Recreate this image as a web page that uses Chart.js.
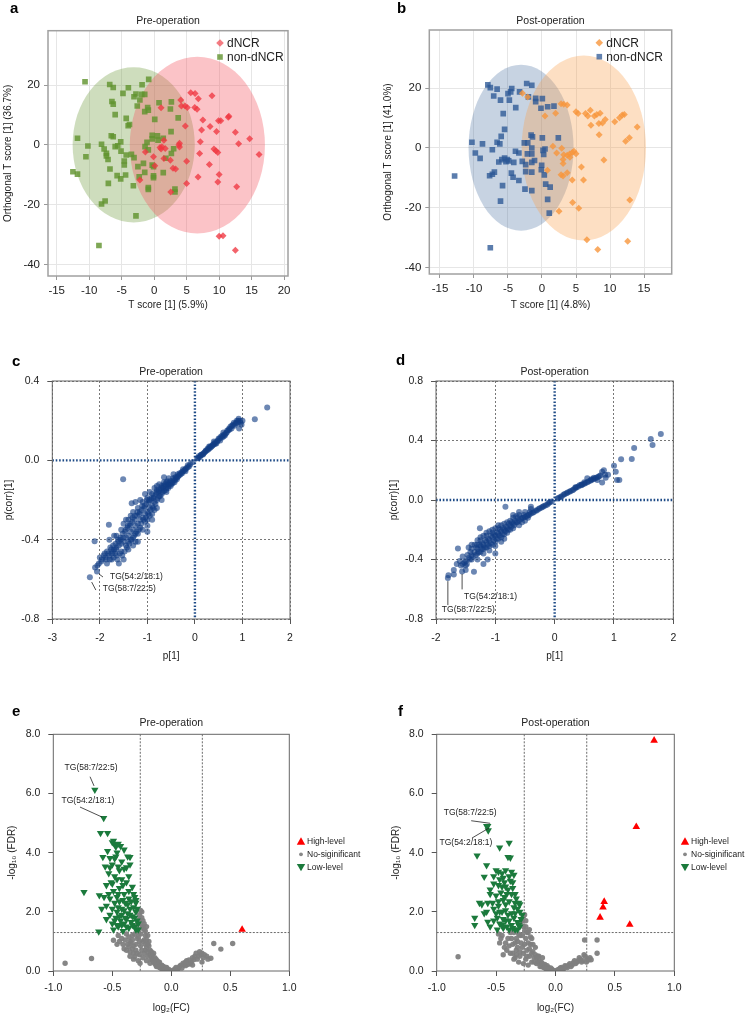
<!DOCTYPE html>
<html><head><meta charset="utf-8">
<script src="https://cdn.jsdelivr.net/npm/chart.js@4.4.1/dist/chart.umd.min.js"></script>
<style>
html,body{margin:0;padding:0;background:#fff;width:745px;height:1015px;overflow:hidden}
canvas{position:absolute;left:0;top:0}
</style></head>
<body>
<canvas id="pa" width="745" height="1015"></canvas>
<canvas id="pb" width="745" height="1015"></canvas>
<canvas id="pc" width="745" height="1015"></canvas>
<canvas id="pd" width="745" height="1015"></canvas>
<canvas id="pe" width="745" height="1015"></canvas>
<canvas id="pf" width="745" height="1015"></canvas>
<script>
// ---------------- DATA ----------------
// Panel a (Pre-operation OPLS-DA scores)
const aDNCR = [[5.63,17.4],[6.3,17.2],[6.8,15.4],[8.9,16.4],[1.06,12.4],[4.09,15.0],[4.2,13.0],[4.76,13.0],[5.1,12.5],[6.25,12.5],[6.6,11.9],[11.4,9.2],[11.5,9.6],[10.25,8.1],[9.9,8.1],[7.5,8.3],[4.8,6.3],[7.3,4.95],[8.6,6.1],[9.6,4.5],[12.5,4.2],[14.7,2.05],[13.0,0.4],[16.15,-3.2],[7.1,1.05],[7.0,-2.9],[9.2,-1.4],[9.5,-2.0],[9.8,-2.6],[8.5,-6.6],[10.0,-9.9],[9.8,-12.4],[12.7,-14.0],[6.76,-10.8],[5.0,-12.9],[5.0,-5.5],[3.8,-0.07],[3.9,0.5],[3.9,-0.7],[2.9,-7.8],[3.3,-8.1],[2.55,-15.8],[1.7,-1.2],[1.2,-0.6],[1.06,-1.4],[1.5,-4.6],[-0.1,-4.0],[0.1,-7.0],[-1.35,-2.4],[-2.2,-11.8],[1.5,1.5],[0.9,-0.9],[2.5,-5.2],[10.0,-30.6],[10.6,-30.4],[12.5,-35.3]];
const aNonDNCR = [[-10.64,21.1],[-6.84,20.2],[-6.3,19.2],[-3.97,19.1],[-0.84,21.9],[-1.86,20.1],[-4.8,17.2],[-2.8,17.0],[-3.1,16.1],[-6.5,14.5],[-6.3,13.6],[-6.0,10.1],[-4.3,8.85],[-3.8,6.8],[-4.0,6.4],[-2.6,13.0],[-1.9,16.9],[-1.45,16.9],[-2.2,15.0],[-1.45,11.1],[-1.0,12.5],[-0.9,11.6],[0.09,8.5],[0.75,14.1],[2.65,14.4],[2.5,12.0],[3.7,9.0],[-0.3,3.2],[-0.3,2.0],[0.5,3.0],[2.6,4.4],[0.6,1.6],[-11.8,2.2],[-10.2,-0.4],[-10.5,-4.0],[-12.5,-9.0],[-11.8,-9.8],[-8.1,0.2],[-7.7,-1.4],[-7.35,-2.85],[-7.35,-3.7],[-7.1,-4.9],[-6.6,3.05],[-6.3,2.7],[-5.15,1.0],[-5.6,-0.3],[-5.1,-2.1],[-6.0,-0.6],[-4.6,-5.4],[-4.6,-6.75],[-4.4,-10.1],[-5.15,-11.4],[-5.7,-10.3],[-6.8,-8.1],[-7.05,-12.9],[-7.55,-18.8],[-8.1,-19.8],[-2.8,-23.8],[-8.5,-33.7],[-4.3,-3.4],[-3.5,-3.2],[-3.2,-13.7],[-2.5,-7.3],[-2.3,-10.7],[-1.45,-9.2],[-1.65,-6.2],[-0.3,-6.8],[-0.1,-7.3],[-0.9,-14.3],[-0.9,-14.9],[-0.1,-11.0],[-0.1,-10.4],[1.4,-9.3],[3.2,-14.8],[3.2,-15.8],[1.8,-4.5],[2.65,-2.9],[3.0,-1.3],[-1.1,0.8],[-1.4,-0.6],[-0.9,-1.7],[1.4,2.2],[-3.1,-4.3]];
const aEllipseNon = {cx:-3.15, cy:0, rx:9.4, ry:26};
const aEllipseD = {cx:6.65, cy:-0.1, rx:10.4, ry:29.6};

// Panel b (Post-operation OPLS-DA scores)
const bDNCR = [[-2.88,18.3],[-2.1,17.1],[0.44,10.7],[2.0,11.6],[2.8,14.8],[3.2,14.6],[3.7,14.4],[5.0,12.1],[5.3,11.5],[6.4,11.5],[6.74,10.7],[7.1,12.6],[7.7,10.7],[8.06,11.2],[8.55,11.6],[8.36,8.2],[7.2,7.6],[9.3,9.55],[8.9,8.4],[10.7,8.8],[11.4,10.1],[11.8,11.0],[12.1,11.2],[14.0,7.0],[12.85,3.4],[12.3,2.25],[8.4,4.4],[1.6,0.55],[2.9,-0.1],[2.15,-1.7],[3.2,-2.25],[3.1,-3.9],[3.7,-2.4],[4.05,-2.0],[4.45,-1.5],[4.7,-1.1],[5.0,-1.9],[4.1,-3.1],[3.1,-5.2],[2.8,-9.0],[3.7,-8.3],[3.1,-9.4],[4.45,-10.7],[5.8,-6.4],[6.1,-10.7],[9.1,-4.05],[0.8,-7.5],[2.5,-21.2],[4.5,-18.3],[5.4,-20.2],[12.9,-17.4],[6.6,-30.7],[8.2,-34.0],[12.6,-31.2]];
const bNonDNCR = [[-7.96,21.1],[-7.6,20.2],[-6.6,19.7],[-4.45,19.9],[-4.6,18.8],[-5.0,18.2],[-2.25,21.6],[-1.5,21.0],[-7.1,17.4],[-6.1,16.0],[-4.8,16.0],[-3.3,18.8],[-2.0,17.1],[-0.93,16.6],[0.05,16.5],[-0.93,15.5],[-3.86,13.5],[-0.15,13.3],[0.83,13.8],[1.76,14.0],[-5.7,11.5],[-5.5,6.2],[-6.0,3.9],[-6.6,1.9],[-6.2,1.35],[-10.3,1.9],[-8.75,1.35],[-9.8,-1.7],[-9.1,-3.5],[-7.3,-0.6],[-5.5,-3.4],[-5.9,-3.9],[-6.35,-4.7],[-5.1,-3.9],[-4.15,-4.8],[-7.7,-9.3],[-7.3,-8.8],[-7.0,-8.1],[-5.8,-12.6],[-6.1,-17.8],[-7.6,-33.4],[-12.85,-9.4],[-4.5,-8.4],[-4.25,-9.8],[-3.4,-10.9],[-2.5,-13.8],[-1.5,-14.3],[-3.9,-1.1],[-3.4,-1.7],[-2.9,-4.5],[-2.4,-5.6],[-2.6,1.7],[-2.1,1.7],[-1.6,4.3],[-1.4,3.7],[-1.5,0.0],[-2.15,-2.0],[-1.5,-2.0],[-1.1,-4.2],[-1.5,-4.8],[-2.4,-7.9],[-1.5,-8.1],[-0.1,-7.3],[0.05,3.4],[0.15,-0.8],[0.44,-0.35],[0.25,-2.2],[-0.05,-5.8],[0.34,-9.0],[0.54,-12.1],[1.2,-13.1],[0.83,-17.2],[1.07,-21.8],[2.4,3.4],[-4.9,-4.3],[-5.3,-4.6]];
const bEllipseNon = {cx:-3.08, cy:0.1, rx:7.72, ry:27.8};
const bEllipseD = {cx:6.15, cy:0, rx:9.14, ry:31};

// Panel c (Pre-operation S-plot: p[1] vs p(corr)[1])
const cPoints = [[0.05,0.01],[0.08,0.02],[0.1,0.015],[0.12,0.025],[0.15,0.03],[0.18,0.035],[0.2,0.04],[0.22,0.045],[0.25,0.05],[0.27,0.06],[0.3,0.06],[0.32,0.07],[0.35,0.07],[0.37,0.075],[0.4,0.08],[0.42,0.09],[0.45,0.085],[0.48,0.1],[0.5,0.11],[0.53,0.1],[0.55,0.12],[0.58,0.125],[0.6,0.12],[0.62,0.13],[0.65,0.135],[0.68,0.15],[0.7,0.15],[0.72,0.16],[0.75,0.17],[0.78,0.175],[0.8,0.18],[0.82,0.19],[0.85,0.185],[0.88,0.2],[0.9,0.19],[0.92,0.21],[0.95,0.2],[0.98,0.18],[0.93,0.16],[1.26,0.207],[1.52,0.267],[0.6,0.14],[0.4,0.095],[0.3,0.07],
[0.07,0.012],[0.13,0.028],[0.17,0.03],[0.23,0.05],[0.28,0.055],[0.33,0.065],[0.38,0.08],[0.43,0.085],[0.47,0.095],[0.52,0.11],[0.57,0.115],[0.63,0.125],[0.67,0.14],[0.73,0.155],[0.77,0.16],[0.83,0.175],[0.87,0.19],[0.91,0.2],[0.96,0.19],[1.0,0.2],
[-0.05,-0.01],[-0.1,-0.02],[-0.12,-0.03],[-0.15,-0.035],[-0.18,-0.04],[-0.2,-0.045],[-0.22,-0.05],[-0.25,-0.055],[-0.27,-0.065],[-0.3,-0.07],[-0.32,-0.065],[-0.35,-0.08],[-0.37,-0.085],[-0.4,-0.09],[-0.42,-0.1],[-0.45,-0.1],[-0.48,-0.11],[-0.5,-0.12],[-0.52,-0.105],[-0.55,-0.13],[-0.57,-0.12],[-0.6,-0.14],[-0.62,-0.13],[-0.65,-0.155],[-0.67,-0.14],[-0.7,-0.17],[-0.72,-0.15],[-0.75,-0.18],[-0.77,-0.16],[-0.8,-0.2],[-0.82,-0.17],[-0.85,-0.21],[-0.87,-0.19],[-0.9,-0.23],[-0.92,-0.2],[-0.95,-0.24],[-0.97,-0.21],[-1.0,-0.26],[-1.02,-0.22],[-1.05,-0.27],[-1.07,-0.24],[-1.1,-0.29],[-1.12,-0.25],[-1.15,-0.3],[-1.17,-0.27],[-1.2,-0.32],[-1.22,-0.28],[-1.25,-0.33],[-1.27,-0.3],[-1.3,-0.35],[-1.32,-0.31],[-1.35,-0.36],[-1.37,-0.33],[-1.4,-0.38],[-1.42,-0.34],[-1.45,-0.39],[-1.47,-0.36],[-1.5,-0.41],[-1.52,-0.37],[-1.55,-0.42],[-1.57,-0.39],[-1.6,-0.43],[-1.62,-0.4],[-1.65,-0.44],[-1.67,-0.42],[-1.7,-0.45],[-1.72,-0.43],[-1.75,-0.47],[-1.78,-0.44],[-1.8,-0.48],[-1.85,-0.46],[-1.88,-0.49],[-1.9,-0.47],[-1.95,-0.5],[-2.0,-0.49],[-2.02,-0.52],[-2.1,-0.54],
[-0.6,-0.11],[-0.7,-0.13],[-0.8,-0.15],[-0.9,-0.17],[-1.0,-0.19],[-1.1,-0.21],[-1.2,-0.24],[-1.3,-0.26],[-1.4,-0.3],[-1.5,-0.32],[-0.85,-0.25],[-0.95,-0.28],[-1.05,-0.31],[-1.15,-0.34],[-1.25,-0.37],[-1.35,-0.4],[-1.45,-0.43],[-1.55,-0.46],[-1.65,-0.48],[-1.75,-0.5],[-1.85,-0.52],[-1.5,-0.5],[-1.6,-0.52],[-1.3,-0.43],[-1.2,-0.41],[-1.0,-0.33],[-0.9,-0.3],[-1.4,-0.45],[-1.7,-0.38],[-1.8,-0.4],
[-0.15,-0.025],[-0.2,-0.055],[-0.25,-0.045],[-0.28,-0.06],[-0.33,-0.075],[-0.36,-0.07],[-0.38,-0.095],[-0.41,-0.085],[-0.43,-0.11],[-0.46,-0.09],[-0.47,-0.115],[-0.51,-0.13],[-0.53,-0.115],[-0.56,-0.14],[-0.58,-0.105],[-0.61,-0.15],[-0.63,-0.12],[-0.66,-0.13],[-0.68,-0.16],[-0.71,-0.14],[-0.73,-0.18],[-0.76,-0.15],[-0.78,-0.19],[-0.81,-0.16],[-0.83,-0.22],[-0.86,-0.18],[-0.88,-0.24],[-0.91,-0.19],[-0.93,-0.25],[-0.96,-0.2],[-0.98,-0.27],[-1.01,-0.2],[-1.03,-0.29],[-1.06,-0.23],[-1.08,-0.3],[-1.11,-0.23],[-1.13,-0.32],[-1.16,-0.26],[-1.18,-0.35],[-1.21,-0.26],[-1.23,-0.36],[-1.26,-0.28],[-1.28,-0.38],[-1.31,-0.29],[-1.33,-0.4],[-1.36,-0.32],[-1.38,-0.42],[-1.41,-0.33],[-1.43,-0.44],[-1.46,-0.35],[-1.48,-0.46],[-1.51,-0.39],[-1.53,-0.48],[-1.56,-0.4],[-1.58,-0.47],[-1.61,-0.41],[-1.63,-0.5],[-1.66,-0.45],[-1.68,-0.47],[-1.71,-0.49],[-1.73,-0.46],[-1.76,-0.45],[-1.79,-0.5],[-1.82,-0.47],[-1.87,-0.5],[-1.92,-0.48],[-1.97,-0.51],[-2.05,-0.53],[-1.1,-0.35],[-1.2,-0.37],[-1.0,-0.3],[-0.9,-0.27],[-0.8,-0.24],[-0.7,-0.2],[-0.6,-0.16],[-1.3,-0.39],[-1.4,-0.41],[-0.95,-0.16],[-1.15,-0.2],[-1.35,-0.28],[-1.45,-0.3],[-1.55,-0.35],[-1.65,-0.38],[-0.75,-0.12],[-0.85,-0.14],[-1.0,-0.36],[-1.25,-0.41],[-0.55,-0.09],[-0.65,-0.11],
[-1.51,-0.095],[-0.65,-0.085],[-1.33,-0.217],[-1.81,-0.325],[-2.11,-0.408],[-0.45,-0.07],[-0.8,-0.13],[-1.05,-0.17],[-1.25,-0.21]];
const cTagged = [[-2.06,-0.56],[-2.21,-0.59]];
const cTagNames = ['TG(54:2/18:1)','TG(58:7/22:5)'];

// Panel d (Post-operation S-plot)
const dPoints = [[0.05,0.01],[0.1,0.02],[0.15,0.035],[0.2,0.045],[0.25,0.055],[0.3,0.065],[0.35,0.08],[0.4,0.09],[0.45,0.1],[0.5,0.11],[0.55,0.12],[0.6,0.13],[0.65,0.14],[0.7,0.15],[0.75,0.16],[0.55,0.146],[0.72,0.135],[0.8,0.117],[0.83,0.2],[0.86,0.15],[0.8,0.19],[0.9,0.17],[1.0,0.23],[1.03,0.19],[1.05,0.135],[1.09,0.135],[1.12,0.274],[1.3,0.276],[1.34,0.35],[1.62,0.41],[1.65,0.37],[1.79,0.443],[0.22,0.05],[0.32,0.07],[0.42,0.1],[0.62,0.14],[0.66,0.15],
[0.07,0.015],[0.12,0.025],[0.17,0.04],[0.27,0.06],[0.37,0.085],[0.47,0.105],[0.52,0.115],[0.57,0.125],[0.62,0.135],[0.68,0.145],[0.73,0.155],[0.77,0.165],[0.5,0.12],[0.45,0.105],[0.35,0.085],[0.85,0.17],
[-0.05,-0.01],[-0.1,-0.02],[-0.15,-0.035],[-0.2,-0.045],[-0.25,-0.055],[-0.3,-0.07],[-0.35,-0.08],[-0.4,-0.09],[-0.45,-0.1],[-0.5,-0.115],[-0.55,-0.12],[-0.6,-0.14],[-0.65,-0.15],[-0.7,-0.16],[-0.75,-0.17],[-0.8,-0.19],[-0.85,-0.2],[-0.9,-0.21],[-0.95,-0.225],[-1.0,-0.24],[-1.05,-0.25],[-1.1,-0.27],[-1.15,-0.28],[-1.2,-0.3],[-1.25,-0.31],[-1.3,-0.33],[-1.35,-0.35],[-1.4,-0.37],[-1.45,-0.39],[-1.5,-0.41],[-1.55,-0.43],
[-0.4,-0.06],[-0.5,-0.08],[-0.6,-0.1],[-0.7,-0.12],[-0.8,-0.15],[-0.9,-0.17],[-1.0,-0.19],[-1.1,-0.21],[-1.2,-0.24],[-1.3,-0.27],[-1.4,-0.3],[-0.5,-0.14],[-0.6,-0.17],[-0.7,-0.19],[-0.8,-0.22],[-0.9,-0.25],[-1.0,-0.28],[-1.1,-0.31],[-1.2,-0.33],[-1.3,-0.36],[-1.4,-0.4],[-1.5,-0.44],[-0.65,-0.11],[-0.75,-0.14],[-0.85,-0.16],[-0.95,-0.19],[-1.05,-0.22],[-1.15,-0.24],[-1.25,-0.27],[-0.75,-0.2],[-0.85,-0.23],[-0.95,-0.26],[-1.05,-0.3],[-1.15,-0.32],[-1.25,-0.35],[-1.35,-0.3],[-1.45,-0.32],
[-0.08,-0.015],[-0.12,-0.03],[-0.18,-0.04],[-0.22,-0.05],[-0.27,-0.06],[-0.32,-0.07],[-0.37,-0.085],[-0.42,-0.08],[-0.43,-0.1],[-0.47,-0.11],[-0.52,-0.1],[-0.53,-0.12],[-0.57,-0.13],[-0.62,-0.12],[-0.63,-0.15],[-0.67,-0.14],[-0.68,-0.17],[-0.72,-0.15],[-0.73,-0.18],[-0.77,-0.16],[-0.78,-0.2],[-0.82,-0.18],[-0.83,-0.21],[-0.87,-0.19],[-0.88,-0.23],[-0.92,-0.2],[-0.93,-0.24],[-0.97,-0.22],[-0.98,-0.26],[-1.02,-0.23],[-1.03,-0.27],[-1.07,-0.24],[-1.08,-0.29],[-1.12,-0.26],[-1.13,-0.3],[-1.17,-0.27],[-1.18,-0.32],[-1.22,-0.29],[-1.23,-0.33],[-1.27,-0.3],[-1.28,-0.35],[-1.32,-0.32],[-1.33,-0.37],[-1.38,-0.38],[-1.42,-0.35],[-1.43,-0.4],[-1.47,-0.37],[-1.52,-0.42],[-1.58,-0.44],[-0.95,-0.17],[-1.05,-0.2],[-0.9,-0.28],[-1.0,-0.31],[-1.1,-0.34],[-1.2,-0.36],[-0.85,-0.26],[-1.15,-0.22],[-1.25,-0.25],[-0.7,-0.1],[-0.6,-0.08],[-0.55,-0.15],[-0.45,-0.12],[-1.3,-0.4],[-1.4,-0.33],[-1.6,-0.41],[-1.55,-0.38],
[-0.83,-0.045],[-0.4,-0.045],[-1.26,-0.19],[-1.63,-0.326],[-1.31,-0.3],[-1.36,-0.483],[-1.13,-0.4],[-1.48,-0.43],[-1.7,-0.47],[-1.79,-0.506],[-1.7,-0.5],[-1.5,-0.47],[-1.65,-0.43],[-1.2,-0.43],[-1.0,-0.36]];
const dTagged = [[-1.56,-0.48],[-1.8,-0.525]];
const dTagNames = ['TG(54:2/18:1)','TG(58:7/22:5)'];

// Panel e (Pre-operation volcano: log2(FC) vs -log10(FDR))
const eHigh = [[0.6,1.4]];
const eLow = [[-0.6,4.66],[-0.54,4.66],[-0.5,4.35],[-0.48,4.28],[-0.47,4.2],[-0.43,4.22],[-0.4,4.1],[-0.46,4.0],[-0.58,3.85],[-0.52,3.82],[-0.47,3.87],[-0.35,3.85],[-0.37,3.87],[-0.56,3.53],[-0.5,3.6],[-0.45,3.53],[-0.4,3.45],[-0.35,3.6],[-0.53,3.3],[-0.48,3.2],[-0.42,3.1],[-0.38,3.0],[-0.33,2.84],[-0.55,2.9],[-0.5,2.95],[-0.44,2.8],[-0.74,2.67],[-0.61,2.56],[-0.57,2.5],[-0.52,2.45],[-0.46,2.5],[-0.41,2.4],[-0.36,2.45],[-0.31,2.5],[-0.3,2.3],[-0.55,2.2],[-0.5,2.1],[-0.45,2.15],[-0.4,2.05],[-0.35,2.1],[-0.3,2.0],[-0.52,1.9],[-0.47,1.8],[-0.42,1.9],[-0.38,1.75],[-0.33,1.85],[-0.29,1.7],[-0.5,1.6],[-0.45,1.5],[-0.4,1.6],[-0.36,1.45],[-0.31,1.5],[-0.28,1.4],[-0.615,1.33],[-0.43,1.7],[-0.37,2.25],[-0.34,1.65],[-0.41,1.35],[-0.49,1.4],[-0.55,1.75],[-0.59,2.1],
[-0.48,2.3],[-0.44,2.35],[-0.39,2.3],[-0.34,2.35],[-0.3,2.4],[-0.46,2.0],[-0.42,2.1],[-0.37,1.95],[-0.32,2.15],[-0.29,2.1],[-0.48,1.7],[-0.44,1.85],[-0.39,1.8],[-0.35,1.9],[-0.31,1.8],[-0.28,1.6],[-0.46,1.55],[-0.42,1.55],[-0.38,1.5],[-0.33,1.55],[-0.3,1.4],[-0.53,2.6],[-0.49,2.7],[-0.45,2.6],[-0.4,2.6],[-0.36,2.7],[-0.32,2.6],[-0.51,3.0],[-0.46,3.1],[-0.41,2.9],[-0.36,3.2],[-0.44,3.4],[-0.52,3.5],[-0.48,3.8],[-0.42,3.7],[-0.38,3.5],[-0.54,4.05],[-0.45,4.3],[-0.49,4.4]];
const eNs = [[-0.9,0.26],[-0.676,0.42],[-0.49,1.04],[-0.46,0.9],[-0.42,1.1],[-0.4,0.75],[-0.38,1.25],[-0.36,0.82],[-0.35,1.0],[-0.33,1.2],[-0.32,0.6],[-0.31,0.48],[-0.3,0.9],[-0.29,1.1],[-0.28,1.3],[-0.27,1.9],[-0.26,1.6],[-0.265,0.26],[-0.25,2.0],[-0.25,0.7],[-0.24,1.0],[-0.23,1.4],[-0.22,1.2],[-0.21,0.8],[-0.2,0.5],[-0.19,1.0],[-0.18,0.7],[-0.18,0.26],[-0.17,0.4],[-0.16,0.55],[-0.15,0.3],[-0.14,0.45],[-0.13,0.2],[-0.126,0.15],[-0.11,0.3],[-0.1,0.12],[-0.09,0.2],[-0.08,0.08],[-0.07,0.06],[-0.06,0.14],[-0.05,0.03],[-0.04,0.08],[-0.03,0.02],[-0.02,0.05],[0,0.01],[0.02,0.03],[0.04,0.12],[0.06,0.08],[0.08,0.2],[0.1,0.26],[0.12,0.18],[0.13,0.35],[0.15,0.37],[0.17,0.3],[0.18,0.45],[0.2,0.5],[0.21,0.6],[0.22,0.4],[0.24,0.65],[0.25,0.55],[0.27,0.45],[0.26,0.3],[0.335,0.43],[0.36,0.93],[0.42,0.74],[0.52,0.93],[-0.3,1.5],[-0.27,1.0],[-0.23,0.6],[-0.35,0.5],[-0.28,0.35],[-0.22,0.9],[-0.2,1.2],[-0.21,0.35],[-0.12,0.35],[0.14,0.22],[0.05,0.05],[-0.24,1.7],[-0.26,1.25],[-0.33,0.75],
[-0.34,0.95],[-0.33,1.05],[-0.32,0.85],[-0.31,1.25],[-0.3,0.7],[-0.29,0.6],[-0.28,1.15],[-0.27,0.55],[-0.26,0.85],[-0.25,1.45],[-0.24,0.45],[-0.23,1.05],[-0.22,0.7],[-0.21,1.05],[-0.2,0.65],[-0.19,0.85],[-0.18,0.55],[-0.17,0.65],[-0.16,0.4],[-0.15,0.6],[-0.14,0.25],[-0.13,0.4],[-0.12,0.25],[-0.11,0.15],[-0.1,0.3],[-0.09,0.1],[-0.08,0.2],[-0.07,0.15],[-0.06,0.05],[-0.04,0.12],[-0.27,1.75],[-0.26,2.05],[-0.25,1.8],[-0.24,1.5],[-0.28,1.6],[-0.29,1.4],[-0.36,1.15],[-0.37,0.9],[-0.39,1.05],[-0.41,0.9],[-0.44,1.0],[-0.38,0.7],[-0.45,1.2],[-0.35,0.65],[-0.32,0.4],[-0.2,0.9],[-0.22,1.35],[-0.23,1.6],[-0.21,1.5],[0.03,0.07],[0.07,0.15],[0.09,0.1],[0.11,0.22],[0.16,0.25],[0.19,0.38],[0.23,0.5],[0.26,0.6],[0.28,0.55],[0.3,0.5],[0.31,0.4],[0.12,0.3],[0.18,0.2]];
const eTagged = [[-0.648,6.12],[-0.573,5.17]];
const eTagNames = ['TG(58:7/22:5)','TG(54:2/18:1)'];

// Panel f (Post-operation volcano)
const fHigh = [[0.83,7.79],[0.68,4.87],[0.41,2.34],[0.40,2.15],[0.375,1.81],[0.625,1.57]];
const fLow = [[-0.58,4.9],[-0.39,4.33],[-0.47,4.17],[-0.66,3.9],[-0.38,3.83],[-0.4,3.85],[-0.58,3.57],[-0.6,3.18],[-0.5,3.4],[-0.48,3.35],[-0.45,3.3],[-0.42,3.4],[-0.37,3.35],[-0.35,3.25],[-0.47,3.1],[-0.43,3.0],[-0.38,3.05],[-0.52,2.95],[-0.45,2.85],[-0.4,2.75],[-0.36,2.8],[-0.55,2.6],[-0.5,2.55],[-0.43,2.5],[-0.37,2.6],[-0.33,2.45],[-0.64,2.3],[-0.62,2.25],[-0.53,2.3],[-0.48,2.2],[-0.42,2.25],[-0.35,2.15],[-0.31,2.3],[-0.58,2.0],[-0.5,1.95],[-0.45,2.0],[-0.4,1.9],[-0.34,1.95],[-0.3,2.0],[-0.68,1.8],[-0.68,1.55],[-0.57,1.66],[-0.52,1.7],[-0.47,1.6],[-0.42,1.7],[-0.37,1.55],[-0.32,1.65],[-0.29,1.75],[-0.49,1.4],[-0.44,1.45],[-0.39,1.4],[-0.34,1.4],[-0.6,1.95],[-0.55,1.5],[-0.3,1.5],
[-0.48,2.35],[-0.44,2.4],[-0.39,2.35],[-0.34,2.3],[-0.3,2.25],[-0.47,2.0],[-0.42,2.05],[-0.37,1.95],[-0.32,2.1],[-0.28,1.9],[-0.49,1.8],[-0.44,1.75],[-0.39,1.7],[-0.35,1.8],[-0.31,1.55],[-0.45,1.55],[-0.41,1.5],[-0.36,1.45],[-0.32,1.4],[-0.52,2.1],[-0.46,2.65],[-0.41,2.6],[-0.34,2.6],[-0.48,2.9],[-0.42,2.85],[-0.36,3.0],[-0.39,3.2],[-0.44,3.15],[-0.52,3.2],[-0.55,2.75],[-0.57,2.3]];
const fNs = [[-0.82,0.48],[-0.47,0.95],[-0.45,1.2],[-0.43,0.8],[-0.4,1.1],[-0.38,0.6],[-0.36,0.9],[-0.35,1.3],[-0.33,0.7],[-0.32,1.0],[-0.3,0.5],[-0.3,1.2],[-0.28,0.8],[-0.27,1.5],[-0.26,1.9],[-0.25,0.4],[-0.25,1.1],[-0.24,0.7],[-0.23,1.3],[-0.22,0.5],[-0.21,0.9],[-0.2,0.3],[-0.19,0.65],[-0.18,0.45],[-0.17,0.8],[-0.16,0.25],[-0.15,0.5],[-0.14,0.35],[-0.13,0.15],[-0.12,0.3],[-0.1,0.12],[-0.09,0.22],[-0.08,0.07],[-0.06,0.12],[-0.05,0.04],[-0.03,0.06],[-0.02,0.02],[0,0.01],[0.02,0.04],[0.04,0.1],[0.06,0.06],[0.08,0.18],[0.1,0.12],[0.12,0.25],[0.14,0.2],[0.16,0.35],[0.18,0.3],[0.2,0.45],[0.22,0.3],[0.24,0.55],[0.245,1.05],[0.27,0.4],[0.28,0.37],[0.35,1.05],[0.35,0.6],[0.3,0.38],[-0.29,1.65],[-0.26,1.35],[-0.34,0.45],[-0.41,0.7],[-0.44,0.55],[-0.2,1.1],[-0.23,0.2],[-0.27,0.25],[-0.31,0.3],[-0.11,0.45],
[-0.34,0.95],[-0.33,1.1],[-0.32,0.8],[-0.31,1.25],[-0.3,0.65],[-0.29,0.95],[-0.28,1.2],[-0.27,0.6],[-0.26,0.9],[-0.25,1.5],[-0.24,0.5],[-0.23,0.95],[-0.22,0.75],[-0.21,1.15],[-0.2,0.6],[-0.19,0.9],[-0.18,0.3],[-0.17,0.55],[-0.16,0.45],[-0.15,0.3],[-0.14,0.5],[-0.13,0.3],[-0.12,0.15],[-0.11,0.25],[-0.09,0.12],[-0.07,0.18],[-0.07,0.05],[-0.04,0.1],[-0.37,1.1],[-0.39,0.85],[-0.42,0.95],[-0.46,1.1],[-0.48,1.25],[-0.36,0.6],[-0.38,1.3],[-0.28,1.7],[-0.27,1.85],[-0.25,1.7],[-0.24,1.3],[-0.22,1.4],[-0.35,0.4],[-0.33,0.55],[0.03,0.05],[0.05,0.12],[0.07,0.08],[0.09,0.15],[0.11,0.2],[0.13,0.15],[0.15,0.28],[0.17,0.25],[0.19,0.35],[0.21,0.4],[0.23,0.35],[0.25,0.5],[0.26,0.3],[0.29,0.45]];
const fTagged = [[-0.57,4.9],[-0.566,4.75]];
const fTagNames = ['TG(58:7/22:5)','TG(54:2/18:1)'];

// thresholds (volcano)
const fcCut = [-0.263, 0.263];
const fdrCut = [1.3];

// tick steps
const scoreStepX = 5, scoreStepY = 20;

// ---------------- RENDERING ----------------
const FONT = "'Liberation Sans', Arial, Helvetica, sans-serif";
Chart.defaults.font.family = FONT;
Chart.defaults.color = '#222';
const W = 745, H = 1015;
const pts = a => a.map(([x,y]) => ({x, y}));
const fmt1 = v => (Math.abs(v) < 1e-9 ? 0 : v).toFixed(1);
const fmt0 = v => String(Math.round(v));

function mark(ctx, style, x, y, r, fill) {
  ctx.fillStyle = fill; ctx.beginPath();
  if (style === 'diamond') { ctx.moveTo(x, y - r); ctx.lineTo(x + r, y); ctx.lineTo(x, y + r); ctx.lineTo(x - r, y); ctx.closePath(); }
  else if (style === 'square') { ctx.rect(x - r, y - r, 2 * r, 2 * r); }
  else if (style === 'circle') { ctx.arc(x, y, r, 0, Math.PI * 2); }
  else if (style === 'up') { ctx.moveTo(x, y - r); ctx.lineTo(x + r, y + r * 0.75); ctx.lineTo(x - r, y + r * 0.75); ctx.closePath(); }
  else if (style === 'down') { ctx.moveTo(x, y + r); ctx.lineTo(x + r, y - r * 0.75); ctx.lineTo(x - r, y - r * 0.75); ctx.closePath(); }
  ctx.fill();
}

const decor = {
  id: 'decor',
  beforeDatasetsDraw(chart, args, o) {
    const {ctx, chartArea: a, scales: {x, y}} = chart;
    ctx.save();
    ctx.beginPath(); ctx.rect(a.left, a.top, a.right - a.left, a.bottom - a.top); ctx.clip();
    (o.ellipses || []).forEach(e => {
      const cx = x.getPixelForValue(e.cx), cy = y.getPixelForValue(e.cy);
      const rx = Math.abs(x.getPixelForValue(e.cx + e.rx) - cx), ry = Math.abs(y.getPixelForValue(e.cy + e.ry) - cy);
      ctx.fillStyle = e.color; ctx.beginPath(); ctx.ellipse(cx, cy, rx, ry, 0, 0, Math.PI * 2); ctx.fill();
    });
    if (o.zeroLines) {
      ctx.strokeStyle = '#1d4a86'; ctx.lineWidth = 2.4; ctx.setLineDash([1.6, 1.8]);
      const px = x.getPixelForValue(0), py = y.getPixelForValue(0);
      ctx.beginPath(); ctx.moveTo(px, a.top); ctx.lineTo(px, a.bottom); ctx.moveTo(a.left, py); ctx.lineTo(a.right, py); ctx.stroke();
    }
    if (o.vlines || o.hlines) {
      ctx.strokeStyle = '#444'; ctx.lineWidth = 0.8; ctx.setLineDash([2, 1.5]);
      ctx.beginPath();
      (o.vlines || []).forEach(v => { const p = x.getPixelForValue(v); ctx.moveTo(p, a.top); ctx.lineTo(p, a.bottom); });
      (o.hlines || []).forEach(v => { const p = y.getPixelForValue(v); ctx.moveTo(a.left, p); ctx.lineTo(a.right, p); });
      ctx.stroke();
    }
    ctx.restore();
  },
  afterDraw(chart, args, o) {
    const {ctx, chartArea: a, scales: {x, y}} = chart;
    ctx.save();
    ctx.strokeStyle = o.frameColor; ctx.lineWidth = o.frameWidth; ctx.setLineDash([]);
    ctx.strokeRect(a.left, a.top, a.right - a.left, a.bottom - a.top);
    ctx.fillStyle = '#222'; ctx.textAlign = 'center'; ctx.textBaseline = 'middle';
    ctx.font = '10.5px ' + FONT;
    ctx.fillText(o.title, (a.left + a.right) / 2, o.titleY);
    ctx.font = 'bold 15px ' + FONT; ctx.textAlign = 'left'; ctx.textBaseline = 'alphabetic';
    ctx.fillStyle = '#000';
    ctx.fillText(o.letter, o.letterX, o.letterY);
    if (o.legend) {
      const L = o.legend;
      ctx.font = L.size + 'px ' + FONT; ctx.textBaseline = 'middle'; ctx.textAlign = 'left';
      L.items.forEach((it, i) => {
        const yy = L.y + i * L.dy;
        mark(ctx, it.style, L.x, yy, it.r, it.color);
        ctx.fillStyle = '#222'; ctx.fillText(it.label, L.x + L.tx, yy + 0.5);
      });
    }
    (o.tags || []).forEach(t => {
      const px = x.getPixelForValue(t.pt[0]), py = y.getPixelForValue(t.pt[1]);
      ctx.strokeStyle = '#222'; ctx.lineWidth = 0.8;
      ctx.beginPath(); ctx.moveTo(px + t.l1[0], py + t.l1[1]); ctx.lineTo(px + t.l2[0], py + t.l2[1]); ctx.stroke();
      ctx.fillStyle = '#222'; ctx.font = '8.5px ' + FONT; ctx.textAlign = t.align; ctx.textBaseline = 'middle';
      ctx.fillText(t.text, px + t.t[0], py + t.t[1]);
    });
    ctx.restore();
  }
};

function axis(o) {
  return {
    type: 'linear', min: o.min, max: o.max, position: o.pos,
    afterFit(s) { if (s.isHorizontal()) s.height = o.size; else s.width = o.size; },
    ticks: { stepSize: o.step, includeBounds: false, autoSkip: false, maxRotation: 0, padding: o.pad,
             font: { size: o.fs }, color: '#222', callback: o.fmt },
    grid: { display: true, drawOnChartArea: o.gridOn, color: o.gridColor, lineWidth: o.gridWidth || 1,
            drawTicks: true, tickLength: o.tickLen, tickColor: o.tickColor, tickWidth: 1, tickBorderDash: [] },
    border: { display: false, dash: o.dash || [] },
    title: { display: true, text: o.title, font: { size: 10 }, color: '#222', padding: { top: 0, bottom: 0 } }
  };
}

function makeChart(id, box, xo, yo, datasets, deco) {
  return new Chart(document.getElementById(id), {
    type: 'scatter',
    data: { datasets },
    options: {
      responsive: false, animation: false, devicePixelRatio: 1, events: [],
      layout: { padding: { left: box.yBoxL, top: box.T, right: W - box.R, bottom: H - box.xBoxB } },
      scales: {
        x: axis(Object.assign({ pos: 'bottom', size: box.xBoxB - box.B }, xo)),
        y: axis(Object.assign({ pos: 'left', size: box.L - box.yBoxL }, yo))
      },
      plugins: { legend: { display: false }, tooltip: { enabled: false }, decor: deco }
    },
    plugins: [decor]
  });
}

const sc = (data, style, r, color, rot) => ({ data: pts(data), pointStyle: style, pointRadius: r, pointRotation: rot || 0,
  backgroundColor: color, borderWidth: 0, borderColor: color, showLine: false });

// ---- a
const scoreGrid = { gridOn: true, gridColor: '#e6e6e6', tickColor: '#999', tickLen: 4, fs: 11.5, pad: 4, fmt: fmt0 };
makeChart('pa', { L: 48, T: 30.7, R: 288, B: 276, yBoxL: 2, xBoxB: 311 },
  Object.assign({ min: -16.34, max: 20.6, step: scoreStepX, title: 'T score [1] (5.9%)' }, scoreGrid),
  Object.assign({ min: -43.9, max: 38.2, step: scoreStepY, title: 'Orthogonal T score [1] (36.7%)' }, scoreGrid),
  [ sc(aDNCR, 'rectRot', 3.5, 'rgba(240,55,65,0.78)'), sc(aNonDNCR, 'rect', 4, 'rgba(98,148,48,0.82)') ],
  { title: 'Pre-operation', titleY: 21, letter: 'a', letterX: 10, letterY: 13, frameColor: '#a0a0a0', frameWidth: 1.5,
    ellipses: [ Object.assign({ color: 'rgba(120,162,72,0.36)' }, aEllipseNon), Object.assign({ color: 'rgba(245,90,100,0.36)' }, aEllipseD) ],
    legend: { x: 220, y: 43, dy: 14, tx: 7, size: 12, items: [
      { label: 'dNCR', style: 'diamond', r: 3.8, color: 'rgba(240,80,90,0.75)' },
      { label: 'non-dNCR', style: 'square', r: 2.8, color: 'rgba(98,148,48,0.8)' } ] } });

// ---- b
makeChart('pb', { L: 429.3, T: 30, R: 671.7, B: 274, yBoxL: 382.3, xBoxB: 311 },
  Object.assign({ min: -16.57, max: 19.07, step: scoreStepX, title: 'T score [1] (4.8%)' }, scoreGrid),
  Object.assign({ min: -42.2, max: 39.5, step: scoreStepY, title: 'Orthogonal T score [1] (41.0%)' }, scoreGrid),
  [ sc(bDNCR, 'rectRot', 3.5, 'rgba(248,150,60,0.8)'), sc(bNonDNCR, 'rect', 4, 'rgba(45,88,150,0.78)') ],
  { title: 'Post-operation', titleY: 21, letter: 'b', letterX: 397, letterY: 13, frameColor: '#a0a0a0', frameWidth: 1.5,
    ellipses: [ Object.assign({ color: 'rgba(70,110,160,0.3)' }, bEllipseNon), Object.assign({ color: 'rgba(250,160,80,0.34)' }, bEllipseD) ],
    legend: { x: 599.3, y: 42.7, dy: 14, tx: 7, size: 12, items: [
      { label: 'dNCR', style: 'diamond', r: 3.8, color: 'rgba(248,150,60,0.8)' },
      { label: 'non-dNCR', style: 'square', r: 2.8, color: 'rgba(45,88,150,0.75)' } ] } });

// ---- c, d
const splotGrid = { gridOn: true, gridColor: c => (c.tick && Math.abs(c.tick.value) < 1e-9) ? 'rgba(0,0,0,0)' : '#555',
  gridWidth: 0.8, dash: [2, 2], tickColor: '#555', tickLen: 5, fs: 10.5 };
const sPoint = 'rgba(18,62,132,0.62)';
makeChart('pc', { L: 52.3, T: 381, R: 290, B: 619, yBoxL: 3, xBoxB: 662 },
  Object.assign({ min: -3, max: 2, step: 1, title: 'p[1]', pad: 8, fmt: fmt0 }, splotGrid),
  Object.assign({ min: -0.8, max: 0.4, step: 0.4, title: 'p(corr)[1]', pad: 8, fmt: fmt1 }, splotGrid),
  [ sc(cPoints.concat(cTagged), 'circle', 3, sPoint) ],
  { title: 'Pre-operation', titleY: 372, letter: 'c', letterX: 12, letterY: 366, frameColor: '#666', frameWidth: 1, zeroLines: true,
    tags: [
      { pt: cTagged[0], text: cTagNames[0], t: [13, 5.6], align: 'left', l1: [2, 2.6], l2: [6, 5.6] },
      { pt: cTagged[1], text: cTagNames[1], t: [13, 11.7], align: 'left', l1: [1.8, 4.7], l2: [6, 12.7] } ] });

makeChart('pd', { L: 436, T: 381, R: 673.3, B: 619, yBoxL: 388, xBoxB: 662 },
  Object.assign({ min: -2, max: 2, step: 1, title: 'p[1]', pad: 8, fmt: fmt0 }, splotGrid),
  Object.assign({ min: -0.8, max: 0.8, step: 0.4, title: 'p(corr)[1]', pad: 8, fmt: fmt1 }, splotGrid),
  [ sc(dPoints.concat(dTagged), 'circle', 3, sPoint) ],
  { title: 'Post-operation', titleY: 372, letter: 'd', letterX: 396, letterY: 365, frameColor: '#666', frameWidth: 1, zeroLines: true,
    tags: [
      { pt: dTagged[0], text: dTagNames[0], t: [2, 25.6], align: 'left', l1: [0, 2.5], l2: [0, 18] },
      { pt: dTagged[1], text: dTagNames[1], t: [-6, 32], align: 'left', l1: [0, 3], l2: [0, 27] } ] });

// ---- e, f
const volGrid = { gridOn: false, gridColor: '#555', tickColor: '#555', tickLen: 5, fs: 10.5, fmt: fmt1 };
const GREEN = '#1b7a3c', RED = '#ff0000', GRAY = 'rgba(128,128,128,0.95)';
const volLegend = (x) => ({ x, y: 841.5, dy: 12.8, tx: 6, size: 8.5, items: [
  { label: 'High-level', style: 'up', r: 4.2, color: RED },
  { label: 'No-siginificant', style: 'circle', r: 1.9, color: '#888' },
  { label: 'Low-level', style: 'down', r: 4.2, color: GREEN } ] });

makeChart('pe', { L: 53.3, T: 734.3, R: 289.3, B: 971, yBoxL: 6.5, xBoxB: 1014.3 },
  Object.assign({ min: -1, max: 1, step: 0.5, title: 'log\u2082(FC)', pad: 6 }, volGrid),
  Object.assign({ min: 0, max: 8, step: 2, title: '-log\u2081\u2080 (FDR)', pad: 8 }, volGrid),
  [ sc(eLow.concat(eTagged), 'triangle', 4.2, GREEN, 180), sc(eHigh, 'triangle', 4.4, RED), sc(eNs, 'circle', 2.7, GRAY) ],
  { title: 'Pre-operation', titleY: 723, letter: 'e', letterX: 12, letterY: 716, frameColor: '#666', frameWidth: 1,
    vlines: fcCut, hlines: fdrCut, legend: volLegend(301),
    tags: [
      { pt: eTagged[0], text: eTagNames[0], t: [-3.8, -22], align: 'center', l1: [-4.8, -13.2], l2: [-0.8, -4] },
      { pt: eTagged[1], text: eTagNames[1], t: [-15.7, -17.3], align: 'center', l1: [-23.7, -11], l2: [-1.7, -1] } ] });

makeChart('pf', { L: 436.7, T: 734.3, R: 674.3, B: 971, yBoxL: 390.7, xBoxB: 1014.3 },
  Object.assign({ min: -1, max: 1, step: 0.5, title: 'log\u2082(FC)', pad: 6 }, volGrid),
  Object.assign({ min: 0, max: 8, step: 2, title: '-log\u2081\u2080 (FDR)', pad: 8 }, volGrid),
  [ sc(fLow.concat(fTagged), 'triangle', 4.2, GREEN, 180), sc(fHigh, 'triangle', 4.4, RED), sc(fNs, 'circle', 2.7, GRAY) ],
  { title: 'Post-operation', titleY: 723, letter: 'f', letterX: 398, letterY: 716, frameColor: '#666', frameWidth: 1,
    vlines: fcCut, hlines: fdrCut, legend: volLegend(685),
    tags: [
      { pt: fTagged[0], text: fTagNames[0], t: [-17.6, -13.3], align: 'center', l1: [-16.6, -5.3], l2: [2.4, -2.7] },
      { pt: fTagged[1], text: fTagNames[1], t: [-22.3, 12.3], align: 'center', l1: [-16.3, 7.6], l2: [0.7, -2.4] } ] });
</script>
</body></html>
